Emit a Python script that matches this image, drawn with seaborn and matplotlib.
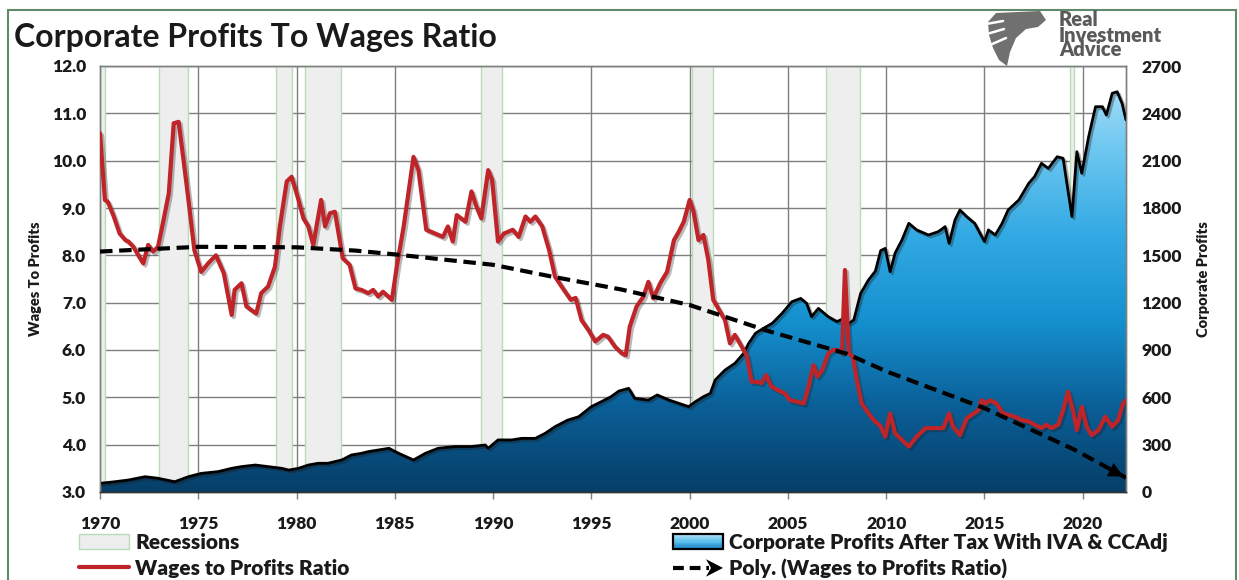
import numpy as np
import pandas as pd
import seaborn as sns
import matplotlib.pyplot as plt
import matplotlib.patheffects as pe
from matplotlib.colors import LinearSegmentedColormap
from matplotlib.patches import Patch, Rectangle, Polygon
from matplotlib.lines import Line2D
from matplotlib.legend_handler import HandlerBase

# wages to profits ratio (left axis)
ratio_years = [1970.0, 1970.25, 1970.4, 1970.7, 1971.0, 1971.3, 1971.45, 1971.7, 1971.95, 1972.2,
               1972.45, 1972.7, 1972.95, 1973.2, 1973.5, 1973.75, 1974.0, 1974.25, 1974.5, 1974.8,
               1975.15, 1975.5, 1975.9, 1976.3, 1976.7, 1976.85, 1977.2, 1977.45, 1977.95, 1978.2,
               1978.55, 1978.9, 1979.15, 1979.5, 1979.75, 1980.1, 1980.35, 1980.6, 1980.85, 1981.25,
               1981.45, 1981.7, 1981.95, 1982.35, 1982.7, 1983.0, 1983.3, 1983.65, 1983.9, 1984.15,
               1984.4, 1984.85, 1985.1, 1985.45, 1985.95, 1986.2, 1986.6, 1987.05, 1987.45, 1987.7,
               1987.95, 1988.15, 1988.6, 1988.9, 1989.15, 1989.4, 1989.75, 1989.95, 1990.25, 1990.55,
               1991.0, 1991.3, 1991.65, 1991.9, 1992.15, 1992.5, 1992.85, 1993.15, 1993.6, 1993.95,
               1994.2, 1994.5, 1994.85, 1995.2, 1995.6, 1995.85, 1996.2, 1996.55, 1996.75, 1996.95,
               1997.3, 1997.65, 1997.9, 1998.15, 1998.5, 1998.85, 1999.2, 1999.45, 1999.7, 2000.0,
               2000.2, 2000.45, 2000.7, 2000.95, 2001.2, 2001.45, 2001.8, 2002.05, 2002.3, 2002.65,
               2002.9, 2003.15, 2003.4, 2003.65, 2003.9, 2004.15, 2004.5, 2004.85, 2005.1, 2005.45,
               2005.8, 2006.05, 2006.3, 2006.5, 2006.75, 2007.05, 2007.3, 2007.55, 2007.75, 2007.9,
               2008.1, 2008.3, 2008.5, 2008.75, 2009.1, 2009.4, 2009.7, 2009.95, 2010.2, 2010.45,
               2010.8, 2011.15, 2011.55, 2012.0, 2012.4, 2012.9, 2013.2, 2013.4, 2013.75, 2014.1,
               2014.45, 2014.7, 2014.85, 2015.05, 2015.3, 2015.6, 2015.95, 2016.2, 2016.55, 2016.9,
               2017.25, 2017.55, 2017.9, 2018.15, 2018.4, 2018.75, 2019.0, 2019.25, 2019.5, 2019.7,
               2019.95, 2020.2, 2020.45, 2020.8, 2021.15, 2021.5, 2021.8, 2022.05, 2022.2]
ratio_values = [10.58, 9.17, 9.13, 8.82, 8.46, 8.32, 8.29, 8.18, 8.0, 7.83,
                8.22, 8.08, 8.18, 8.68, 9.31, 10.79, 10.82, 10.01, 9.17, 8.11,
                7.65, 7.83, 8.0, 7.62, 6.74, 7.27, 7.41, 6.92, 6.77, 7.2,
                7.34, 7.76, 8.61, 9.56, 9.66, 9.17, 8.78, 8.61, 8.22, 9.17,
                8.61, 8.89, 8.92, 7.94, 7.8, 7.3, 7.27, 7.2, 7.27, 7.13,
                7.23, 7.06, 7.76, 8.61, 10.08, 9.8, 8.54, 8.46, 8.39, 8.61,
                8.29, 8.85, 8.71, 9.35, 9.03, 8.78, 9.8, 9.59, 8.29, 8.46,
                8.54, 8.39, 8.82, 8.71, 8.82, 8.61, 8.11, 7.55, 7.27, 7.06,
                7.1, 6.63, 6.42, 6.18, 6.32, 6.28, 6.07, 5.93, 5.89, 6.49,
                6.92, 7.13, 7.44, 7.09, 7.41, 7.65, 8.32, 8.5, 8.71, 9.17,
                8.92, 8.32, 8.43, 7.9, 7.06, 6.88, 6.63, 6.14, 6.32, 6.07,
                5.89, 5.33, 5.33, 5.3, 5.47, 5.23, 5.15, 5.08, 4.94, 4.91,
                4.87, 5.23, 5.68, 5.44, 5.58, 5.93, 6.0, 6.0, 5.93, 7.69,
                5.93, 5.86, 5.37, 4.87, 4.66, 4.5, 4.4, 4.17, 4.66, 4.24,
                4.1, 3.96, 4.17, 4.35, 4.35, 4.35, 4.66, 4.38, 4.2, 4.56,
                4.66, 4.73, 4.94, 4.87, 4.94, 4.87, 4.66, 4.63, 4.59, 4.52,
                4.49, 4.42, 4.35, 4.42, 4.35, 4.42, 4.73, 5.12, 4.73, 4.31,
                4.8, 4.38, 4.2, 4.31, 4.59, 4.38, 4.52, 4.87, 4.94]

# corporate profits after tax (right axis, $bn)
profit_years = [1970.0, 1970.75, 1971.45, 1972.3, 1972.95, 1973.8, 1974.5, 1975.15, 1976.0, 1976.7,
                1977.2, 1977.9, 1978.55, 1979.25, 1979.6, 1980.1, 1980.6, 1981.1, 1981.6, 1982.3,
                1982.8, 1983.3, 1983.65, 1984.7, 1985.2, 1985.95, 1986.55, 1987.2, 1988.05, 1988.9,
                1989.6, 1989.75, 1990.25, 1990.95, 1991.45, 1992.15, 1992.65, 1993.15, 1993.8, 1994.35,
                1995.0, 1995.5, 1996.0, 1996.4, 1996.9, 1997.2, 1997.9, 1998.35, 1998.95, 1999.45,
                1999.95, 2000.3, 2000.7, 2001.05, 2001.3, 2001.8, 2002.3, 2002.75, 2003.0, 2003.35,
                2003.75, 2004.2, 2004.7, 2005.2, 2005.65, 2005.95, 2006.2, 2006.55, 2007.05, 2007.5,
                2007.85, 2008.1, 2008.35, 2008.7, 2009.1, 2009.45, 2009.72, 2009.95, 2010.2, 2010.45,
                2010.8, 2011.15, 2011.55, 2012.15, 2012.65, 2013.0, 2013.2, 2013.5, 2013.75, 2014.1,
                2014.5, 2015.0, 2015.2, 2015.55, 2015.9, 2016.2, 2016.75, 2017.25, 2017.55, 2017.9,
                2018.25, 2018.7, 2019.0, 2019.45, 2019.7, 2019.95, 2020.3, 2020.65, 2021.0, 2021.2,
                2021.5, 2021.75, 2022.0, 2022.2]
profit_values = [55, 65, 76, 97, 87, 65, 97, 118, 129, 150,
                 161, 171, 161, 150, 139, 150, 171, 182, 182, 203,
                 235, 245, 256, 277, 245, 203, 245, 277, 288, 288,
                 298, 277, 330, 330, 340, 340, 372, 414, 456, 477,
                 541, 572, 604, 640, 657, 594, 583, 615, 583, 562,
                 541, 573, 604, 625, 710, 773, 815, 879, 942, 1006,
                 1037, 1069, 1132, 1206, 1227, 1196, 1111, 1164, 1111, 1080,
                 1101, 1069, 1090, 1259, 1344, 1400, 1530, 1544, 1396, 1513,
                 1597, 1703, 1661, 1629, 1650, 1682, 1576, 1724, 1787, 1745,
                 1703, 1587, 1661, 1629, 1703, 1787, 1851, 1956, 1999, 2083,
                 2051, 2125, 2115, 1745, 2157, 2020, 2252, 2442, 2442, 2389,
                 2527, 2537, 2463, 2358]

# polynomial trend as drawn in the chart
trend_years = [1970.0, 1975.0, 1980.0, 1983.0, 1985.0, 1990.0, 1993.0, 1996.5, 2000.0, 2004.0,
               2008.0, 2010.0, 2015.0, 2019.6, 2022.2]
trend_values = [8.08, 8.18, 8.17, 8.10, 8.02, 7.80, 7.55, 7.28, 6.95, 6.40,
                5.92, 5.55, 4.77, 3.89, 3.30]

recession_start = [1970.0, 1973.0, 1978.95, 1980.43, 1989.4, 2000.1, 2006.96, 2019.35]
recession_end = [1970.25, 1974.5, 1979.75, 1982.25, 1990.45, 2001.17, 2008.66, 2019.55]

ratio_df = pd.DataFrame({"year": ratio_years, "ratio": ratio_values})
profit_df = pd.DataFrame({"year": profit_years, "profits": profit_values})
trend_df = pd.DataFrame({"year": trend_years, "trend": trend_values})

sns.set_theme(style="white")
plt.rcParams["font.family"] = ["Lato", "DejaVu Sans"]

GRID = "#7f7f7f"
RED = "#bf2429"
TXT = "#1a1a1a"
cmap = LinearSegmentedColormap.from_list(
    "blues", ["#063e68", "#0b5f97", "#1590cf", "#31a9e3", "#6cc6f0", "#b3e4fa"])


class GradientPatchHandler(HandlerBase):
    def create_artists(self, legend, orig, xd, yd, w, h, fontsize, trans):
        n = 12
        arts = []
        cols = LinearSegmentedColormap.from_list("lg", ["#1a84c4", "#5cc0ee", "#a6def8"])
        for i in range(n):
            arts.append(Rectangle((xd, yd + h * i / n), w, h / n + 0.2, facecolor=cols(i / (n - 1)),
                                  edgecolor="none", transform=trans))
        arts.append(Rectangle((xd, yd), w, h, fill=False, edgecolor="black", lw=1.6, transform=trans))
        return arts


class ArrowLineHandler(HandlerBase):
    def create_artists(self, legend, orig, xd, yd, w, h, fontsize, trans):
        y = yd + h / 2
        line = Line2D([xd, xd + w * 0.72], [y, y], color="black", lw=3,
                      linestyle=(0, (2.6, 1.4)), transform=trans)
        head = Polygon([[xd + w * 0.66, y + h * 0.6], [xd + w, y], [xd + w * 0.66, y - h * 0.6],
                        [xd + w * 0.76, y]], closed=True, facecolor="black", edgecolor="none",
                       transform=trans)
        return [line, head]


W, H = 1239, 580
fig = plt.figure(figsize=(W / 100, H / 100), dpi=100)
fig.patch.set_facecolor("white")

ax = fig.add_axes([100 / W, 1 - 492 / H, 1026 / W, 426 / H])
ax2 = ax.twinx()

# profits on the primary axis, ticks on the right
ax.set_xlim(1970, 2022.2)
ax.set_ylim(0, 2700)
ax.set_yticks(np.arange(0, 2701, 300))
ax.set_xticks(np.arange(1970, 2021, 5))
for yv in np.arange(300, 2701, 300):
    ax.axhline(yv, color=GRID, lw=1.0, zorder=0)
for xv in np.arange(1975, 2021, 5):
    ax.axvline(xv, color=GRID, lw=1.0, zorder=0)

for s, e in zip(recession_start, recession_end):
    ax.axvspan(s, e, facecolor="#eeeeee", edgecolor="#b7dcb7", lw=1.0, zorder=1)

poly = ax.fill_between(profit_df["year"], 0, profit_df["profits"], facecolor="none", lw=0, zorder=2)
grad = np.linspace(0, 1, 256).reshape(-1, 1)
im = ax.imshow(grad, cmap=cmap, origin="lower", aspect="auto",
               extent=[1970, 2022.2, 0, 2700], zorder=2)
im.set_clip_path(poly.get_paths()[0], transform=ax.transData)
sns.lineplot(data=profit_df, x="year", y="profits", ax=ax, color="black", lw=2.0, zorder=3,
             path_effects=[pe.SimpleLineShadow(offset=(1.5, -1.5), alpha=0.35), pe.Normal()])

# ratio on the twin axis, ticks on the left
ax2.set_ylim(3, 12)
ax2.set_yticks(np.arange(3, 12.1, 1))
sns.lineplot(data=ratio_df, x="year", y="ratio", ax=ax2, color=RED, lw=3.0, zorder=4,
             path_effects=[pe.SimpleLineShadow(offset=(1.5, -1.5), alpha=0.3), pe.Normal()])
sns.lineplot(data=trend_df, x="year", y="trend", ax=ax2, color="black", lw=3.0,
             linestyle=(0, (3, 1.6)), zorder=5)
ax2.annotate("", xy=(trend_years[-1], trend_values[-1]),
             xytext=(trend_years[-2] + 1.8, trend_values[-2] - 0.42),
             arrowprops=dict(arrowstyle="-|>,head_length=0.9,head_width=0.45", color="black", lw=0),
             zorder=6)

ax.yaxis.tick_right()
ax.yaxis.set_label_position("right")
ax2.yaxis.tick_left()
ax2.yaxis.set_label_position("left")
ax.set_yticklabels([str(int(v)) for v in np.arange(0, 2701, 300)])
ax2.set_yticklabels([f"{v:.1f}" for v in np.arange(3, 12.1, 1)])

for lab in ax.get_xticklabels() + ax.get_yticklabels() + ax2.get_yticklabels():
    lab.set_fontsize(12.5)
    lab.set_fontweight("heavy")
    lab.set_color(TXT)
ax.tick_params(axis="x", length=5, width=1, color=GRID, pad=12, bottom=True)
ax.tick_params(axis="y", length=0, pad=11)
ax2.tick_params(axis="y", length=0, pad=10)

ax.set_xlabel("")
ax.set_ylabel("Corporate Profits", fontsize=10.5, fontweight="heavy", color=TXT, labelpad=11)
ax2.set_xlabel("")
ax2.set_ylabel("Wages To Profits", fontsize=10.5, fontweight="heavy", color=TXT, labelpad=7)

for a in (ax, ax2):
    for sp in a.spines.values():
        sp.set_color(GRID)
        sp.set_linewidth(1.0)
    a.spines["bottom"].set_color("#333333")

# title, logo, frame
fig.text(14 / W, 1 - 38 / H, "Corporate Profits To Wages Ratio", fontsize=23, fontweight="bold",
         color=TXT, va="center", ha="left")
fig.text(1059 / W, 1 - 35 / H, "Real\nInvestment\nAdvice", fontsize=14.5, fontweight="heavy",
         color="#5a5a5a", va="center", ha="left", linespacing=0.75)


def px(pts):
    return [[x / W, 1 - y / H] for x, y in pts]


eagle = Polygon(px([(996, 13), (1040, 11), (1046, 20), (1038, 27), (1026, 29), (1016, 38),
                    (1010, 52), (1007, 66), (999, 60), (993, 48), (989, 35), (988, 22)]),
                closed=True, transform=fig.transFigure, facecolor="#707070", edgecolor="none")
fig.add_artist(eagle)
for a_, b_ in [((986, 24), (1003, 21)), ((987, 34), (1004, 29)), ((990, 45), (1006, 38))]:
    fig.add_artist(Line2D([a_[0] / W, b_[0] / W], [1 - a_[1] / H, 1 - b_[1] / H],
                          transform=fig.transFigure, color="white", lw=1.8))
fig.add_artist(Rectangle((8 / W, -0.01), 1228 / W, 1 - 10 / H + 0.01, transform=fig.transFigure,
                         fill=False, edgecolor="#5f8a6a", lw=1.5))

# legends
leg_kw = dict(loc="upper left", frameon=False, borderpad=0, borderaxespad=0, handlelength=2.4,
              handleheight=0.7, handletextpad=0.3, labelspacing=0.32,
              prop=dict(size=15, weight="heavy"))
left_handles = [Patch(facecolor="#eeeeee", edgecolor="#b7dcb7", lw=1.0),
                Line2D([], [], color=RED, lw=3)]
leg1 = fig.legend(left_handles, ["Recessions", "Wages to Profits Ratio"],
                  bbox_to_anchor=(79 / W, 1 - 533 / H), **leg_kw)
right_handles = [Patch(), Line2D([], [])]
leg2 = fig.legend(right_handles, ["Corporate Profits After Tax With IVA & CCAdj",
                                  "Poly. (Wages to Profits Ratio)"],
                  bbox_to_anchor=(673 / W, 1 - 533 / H),
                  handler_map={right_handles[0]: GradientPatchHandler(),
                               right_handles[1]: ArrowLineHandler()}, **leg_kw)
for lg in (leg1, leg2):
    for t in lg.get_texts():
        t.set_color(TXT)

fig.savefig("out.png", dpi=100)
